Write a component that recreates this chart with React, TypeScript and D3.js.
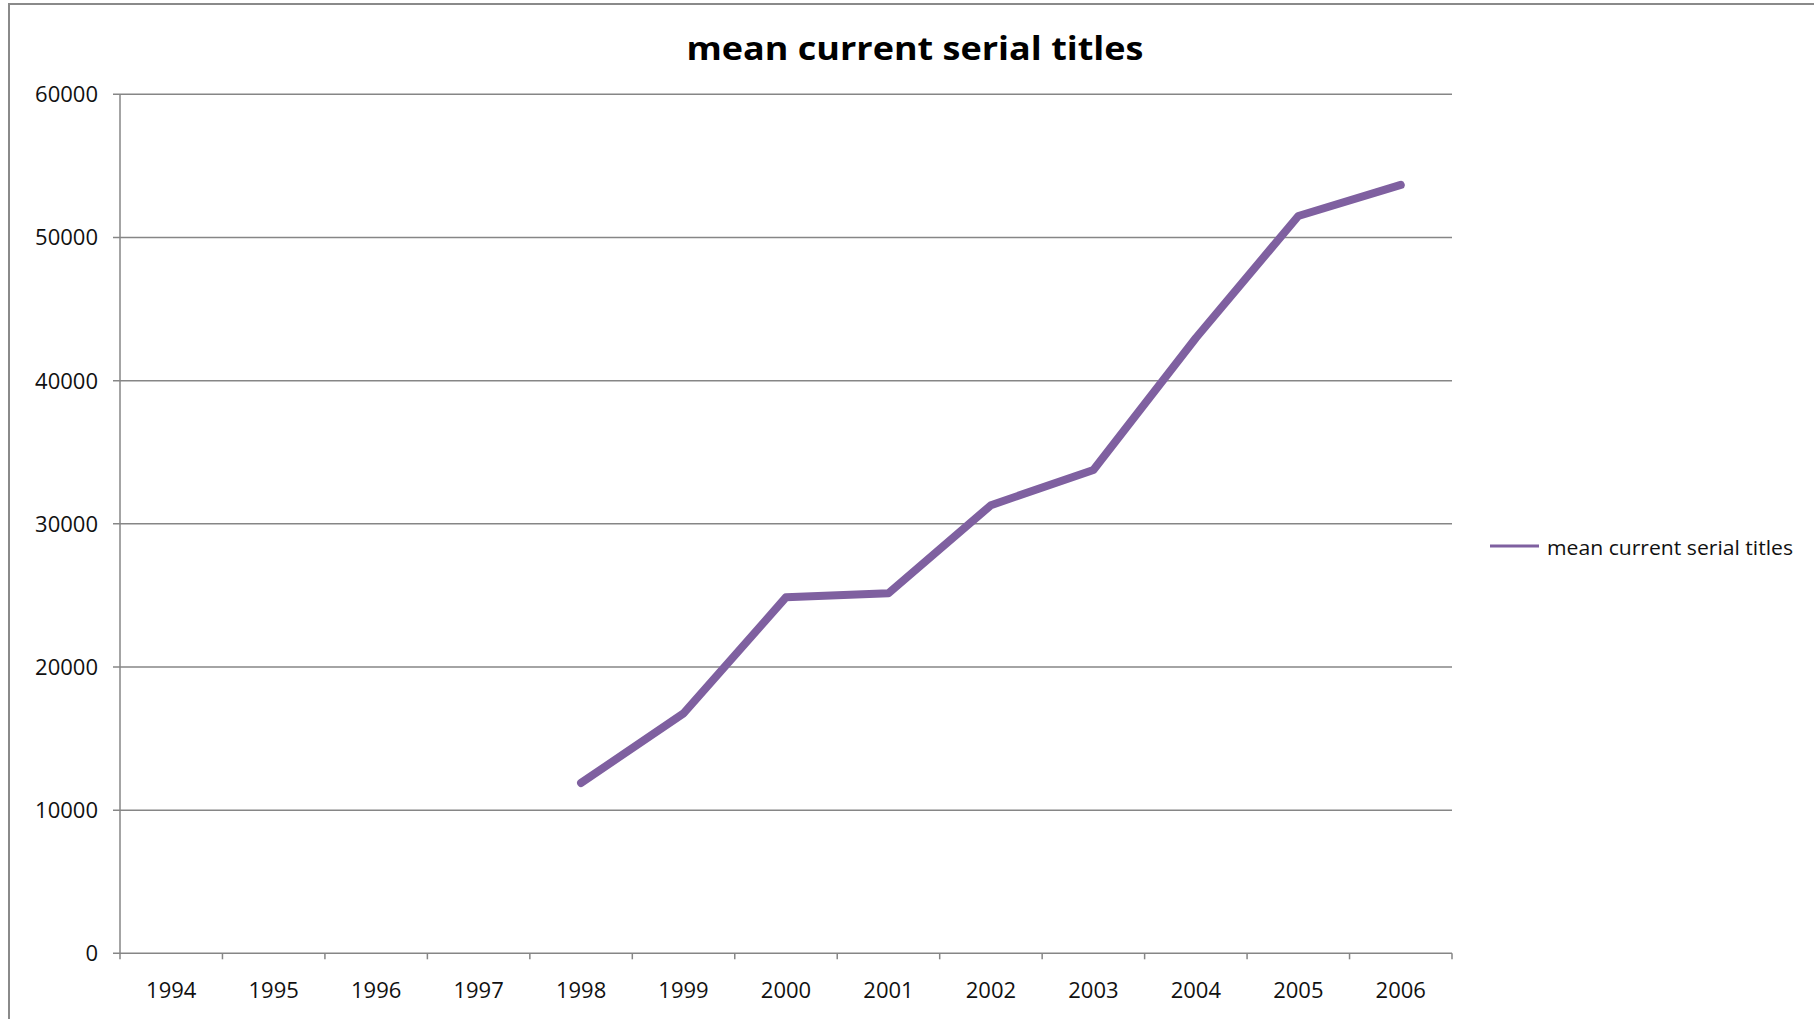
import { useEffect, useRef } from 'react';
import * as d3 from 'd3';

const years = ['1994', '1995', '1996', '1997', '1998', '1999', '2000', '2001', '2002', '2003', '2004', '2005', '2006'];
const meanTitles: (number | null)[] = [null, null, null, null, 11900, 16760, 24870, 25150, 31300, 33760, 42980, 51500, 53670];
const yTicks = [0, 10000, 20000, 30000, 40000, 50000, 60000];
const seriesName = 'mean current serial titles';

const W = 1814;
const H = 1019;
const FONT = '"Open Sans", sans-serif';
const GRID = '#868686';
const PURPLE = '#7f60a0';

export default function App() {
  const svgRef = useRef<SVGSVGElement>(null);

  useEffect(() => {
    if (!svgRef.current) return;
    const svg = d3.select(svgRef.current);
    svg.selectAll('*').remove();

    const left = 120, right = 1452, top = 94.3, bottom = 953.3;

    const x = d3.scaleBand<string>().domain(years).range([left, right]);
    const y = d3.scaleLinear().domain([0, 60000]).range([bottom, top]);

    // outer chart border (right/bottom run off the page)
    svg.append('rect')
      .attr('x', 9).attr('y', 4)
      .attr('width', 2000).attr('height', 2000)
      .attr('fill', 'white')
      .attr('stroke', '#8a8a8a').attr('stroke-width', 2);

    // title
    svg.append('text')
      .attr('x', 915).attr('y', 60)
      .attr('text-anchor', 'middle')
      .attr('font-family', FONT).attr('font-weight', 'bold')
      .attr('font-size', 33)
      .attr('textLength', 457).attr('lengthAdjust', 'spacingAndGlyphs')
      .text(seriesName);

    // horizontal gridlines + y tick labels
    const g = svg.append('g');
    g.selectAll('line.grid')
      .data(yTicks)
      .join('line')
      .attr('class', 'grid')
      .attr('x1', left - 7).attr('x2', right)
      .attr('y1', d => y(d)).attr('y2', d => y(d))
      .attr('stroke', GRID).attr('stroke-width', 1.5);

    g.selectAll('text.ylab')
      .data(yTicks)
      .join('text')
      .attr('class', 'ylab')
      .attr('x', 98).attr('y', d => y(d) + 8)
      .attr('text-anchor', 'end')
      .attr('font-family', FONT).attr('font-size', 22)
      .attr('fill', '#111')
      .text(d => String(d));

    // y axis line
    g.append('line')
      .attr('x1', left).attr('x2', left)
      .attr('y1', top).attr('y2', bottom)
      .attr('stroke', GRID).attr('stroke-width', 1.5);

    // x ticks at category boundaries
    const bounds = years.map(yr => x(yr) as number).concat([right]);
    g.selectAll('line.xtick')
      .data(bounds)
      .join('line')
      .attr('class', 'xtick')
      .attr('x1', d => d).attr('x2', d => d)
      .attr('y1', bottom).attr('y2', bottom + 6)
      .attr('stroke', GRID).attr('stroke-width', 1.5);

    g.selectAll('text.xlab')
      .data(years)
      .join('text')
      .attr('class', 'xlab')
      .attr('x', d => (x(d) as number) + x.bandwidth() / 2)
      .attr('y', 998)
      .attr('text-anchor', 'middle')
      .attr('font-family', FONT).attr('font-size', 22)
      .attr('fill', '#111')
      .text(d => d);

    // series line
    const pts = years.map((yr, i) => ({ yr, v: meanTitles[i] }));
    const line = d3.line<{ yr: string; v: number | null }>()
      .defined(d => d.v !== null)
      .x(d => (x(d.yr) as number) + x.bandwidth() / 2)
      .y(d => y(d.v as number));

    svg.append('path')
      .datum(pts)
      .attr('d', line)
      .attr('fill', 'none')
      .attr('stroke', PURPLE)
      .attr('stroke-width', 8)
      .attr('stroke-linejoin', 'round')
      .attr('stroke-linecap', 'round');

    // legend
    svg.append('line')
      .attr('x1', 1490).attr('x2', 1539)
      .attr('y1', 546).attr('y2', 546)
      .attr('stroke', PURPLE).attr('stroke-width', 3);
    svg.append('text')
      .attr('x', 1547).attr('y', 555)
      .attr('font-family', FONT).attr('font-size', 20)
      .attr('fill', '#111')
      .attr('textLength', 246).attr('lengthAdjust', 'spacingAndGlyphs')
      .text(seriesName);
  }, []);

  return (
    <svg
      ref={svgRef}
      width={W}
      height={H}
      style={{ position: 'absolute', left: 0, top: 0, background: 'white' }}
    />
  );
}
